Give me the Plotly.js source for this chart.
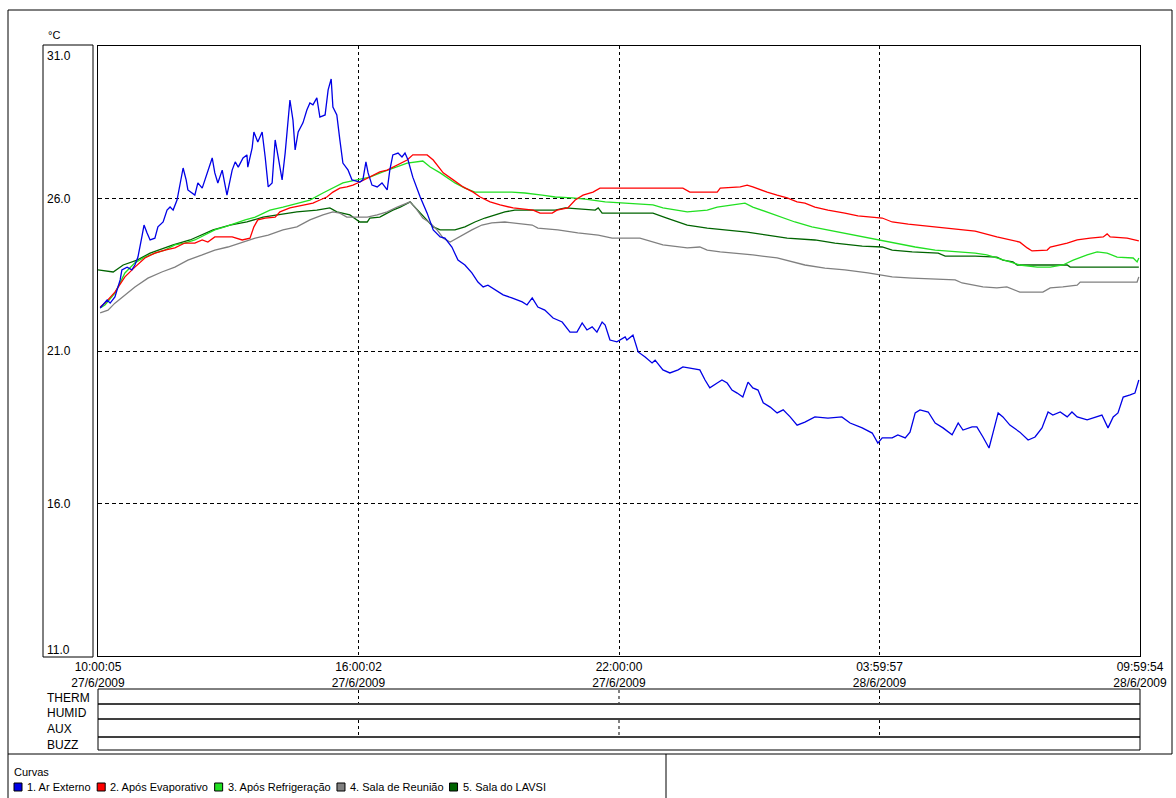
<!DOCTYPE html>
<html><head><meta charset="utf-8">
<script src="https://cdn.plot.ly/plotly-3.0.1.min.js"></script>
<style>html,body{margin:0;padding:0;background:#fff}#chart{width:1176px;height:798px}</style>
</head><body><div id="chart"></div>
<script>
// ---------------- DATA ----------------
const seriesNames = ['1. Ar Externo', '2. Após Evaporativo', '3. Após Refrigeração', '4. Sala de Reunião', '5. Sala do LAVSI'];
const seriesColors = ['#0000e6', '#ff0000', '#22e022', '#808080', '#006400'];

// hours since 10:00:05 27/6/2009, temperature in °C
const arExternoH = [0.05,0.21,0.28,0.39,0.51,0.55,0.67,0.78,0.85,0.92,1.01,1.06,1.13,1.20,1.31,1.38,1.50,1.59,1.66,1.73,1.82,1.89,1.96,2.03,2.07,2.23,2.30,2.40,2.51,2.63,2.69,2.76,2.86,2.97,3.09,3.16,3.23,3.34,3.43,3.45,3.55,3.59,3.68,3.78,3.85,3.92,4.01,4.08,4.15,4.24,4.31,4.42,4.49,4.54,4.61,4.72,4.81,4.88,4.95,5.04,5.11,5.23,5.30,5.37,5.41,5.50,5.57,5.64,5.76,5.85,6.03,6.10,6.17,6.22,6.31,6.43,6.54,6.66,6.72,6.79,6.91,7.00,7.07,7.14,7.25,7.42,7.58,7.72,7.88,7.99,8.15,8.29,8.45,8.61,8.75,8.87,8.98,9.14,9.33,9.53,9.77,9.88,10.00,10.13,10.29,10.48,10.69,10.87,11.03,11.15,11.26,11.38,11.49,11.61,11.68,11.79,11.95,12.14,12.18,12.32,12.44,12.60,12.76,12.83,13.01,13.17,13.36,13.47,13.63,13.86,13.98,14.09,14.26,14.37,14.49,14.60,14.72,14.85,14.97,15.08,15.20,15.32,15.48,15.64,15.78,15.94,16.10,16.28,16.51,16.81,17.13,17.32,17.60,17.83,17.96,18.06,18.29,18.42,18.59,18.70,18.82,18.93,19.12,19.28,19.46,19.67,19.81,19.92,20.13,20.24,20.38,20.52,20.61,20.73,20.84,21.00,21.23,21.42,21.58,21.74,21.88,21.99,22.16,22.32,22.43,22.55,22.78,22.92,23.12,23.26,23.38,23.49,23.61,23.77,23.88,23.97];
const arExternoT = [22.41,22.67,22.57,22.77,23.33,23.66,23.75,23.66,23.82,24.08,24.74,25.13,24.87,24.64,24.70,25.07,25.23,25.62,25.72,25.62,25.95,26.51,27.00,26.61,26.28,26.11,26.51,26.34,26.84,27.33,26.84,26.51,26.93,26.11,26.93,27.20,27.03,27.33,27.43,27.03,27.66,28.18,27.85,28.18,27.36,26.38,26.51,27.92,27.36,26.61,27.49,29.23,28.57,27.59,28.18,28.48,28.90,29.13,29.07,29.30,28.67,28.74,29.56,29.92,29.00,28.74,27.92,27.16,26.93,26.61,26.54,26.61,27.20,26.84,26.44,26.38,26.51,26.28,26.93,27.43,27.49,27.36,27.49,27.26,26.70,26.05,25.52,24.97,24.74,24.70,24.41,23.98,23.82,23.56,23.26,23.10,23.16,23.00,22.84,22.74,22.61,22.51,22.74,22.44,22.34,22.08,21.95,21.62,21.62,21.92,21.69,21.79,21.62,21.95,21.85,21.36,21.30,21.46,21.36,21.52,20.97,20.80,20.61,20.70,20.38,20.28,20.38,20.48,20.44,20.38,20.05,19.79,19.95,20.05,19.95,19.72,19.62,19.49,19.98,19.79,19.72,19.30,19.16,18.97,19.07,18.84,18.57,18.67,18.84,18.80,18.84,18.64,18.48,18.31,17.98,18.15,18.15,18.25,18.15,18.34,18.97,19.07,19.00,18.64,18.48,18.25,18.64,18.41,18.51,18.51,18.18,17.82,18.31,18.97,18.84,18.57,18.34,18.08,18.18,18.48,19.00,18.90,19.00,18.84,19.00,18.84,18.74,18.80,18.90,18.48,18.84,18.97,19.49,19.56,19.62,20.05];

const aposEvapH = [0.05,0.16,0.39,0.62,0.85,1.08,1.31,1.54,1.77,2.00,2.23,2.40,2.53,2.69,3.09,3.32,3.50,3.59,3.68,3.85,4.08,4.19,4.42,4.72,4.95,5.11,5.27,5.41,5.57,5.73,5.87,6.03,6.20,6.33,6.49,6.66,6.79,6.96,7.12,7.25,7.58,7.72,7.95,8.18,8.41,8.64,8.80,9.03,9.26,9.56,10.02,10.18,10.46,10.57,10.82,10.99,11.17,11.40,11.56,13.47,13.63,14.26,14.33,14.79,14.95,15.08,15.25,15.41,15.64,15.87,16.10,16.28,16.51,16.81,17.20,17.50,18.06,18.29,18.66,19.21,19.67,20.20,20.70,20.84,21.23,21.40,21.51,21.86,21.93,22.32,22.55,22.85,23.15,23.24,23.31,23.70,23.97];
const aposEvapT = [22.44,22.57,22.93,23.43,23.75,24.05,24.21,24.31,24.38,24.54,24.54,24.64,24.57,24.74,24.74,24.64,24.70,25.07,25.30,25.36,25.39,25.56,25.69,25.79,25.85,25.95,26.05,26.21,26.34,26.38,26.44,26.54,26.67,26.77,26.87,26.93,27.03,27.16,27.26,27.43,27.43,27.26,26.84,26.61,26.38,26.21,26.05,25.89,25.79,25.69,25.62,25.52,25.52,25.62,25.69,25.95,26.11,26.21,26.34,26.34,26.21,26.21,26.34,26.38,26.44,26.38,26.28,26.21,26.11,26.02,25.89,25.85,25.72,25.62,25.52,25.43,25.36,25.23,25.16,25.07,25.00,24.93,24.74,24.70,24.57,24.38,24.28,24.31,24.41,24.54,24.64,24.70,24.74,24.84,24.74,24.70,24.61];

const aposRefrH = [0.05,0.16,0.39,0.62,0.85,1.08,1.31,1.54,1.77,2.00,2.23,2.46,2.69,2.92,3.16,3.39,3.62,3.96,4.26,4.58,4.88,5.18,5.41,5.64,5.96,6.26,6.56,6.89,7.12,7.48,7.65,7.88,8.11,8.22,8.45,8.68,9.53,9.83,10.23,10.53,10.92,11.22,11.68,12.14,12.78,13.01,13.57,14.03,14.26,14.62,14.90,15.08,15.41,15.71,16.05,16.44,16.81,17.20,17.60,17.96,18.36,18.82,19.28,19.74,20.20,20.47,20.84,21.23,21.63,21.93,22.22,22.46,22.78,23.01,23.24,23.47,23.84,23.93,23.97];
const aposRefrT = [22.41,22.51,22.90,23.56,23.89,24.08,24.21,24.31,24.48,24.54,24.64,24.80,24.97,25.07,25.20,25.30,25.39,25.62,25.72,25.85,25.95,26.18,26.34,26.51,26.61,26.70,26.87,27.03,27.16,27.23,27.03,26.84,26.61,26.51,26.34,26.21,26.21,26.18,26.11,26.05,26.02,25.98,25.89,25.85,25.79,25.69,25.56,25.62,25.72,25.79,25.85,25.72,25.56,25.39,25.23,25.07,24.97,24.87,24.74,24.64,24.54,24.41,24.31,24.25,24.21,24.15,23.98,23.82,23.75,23.75,23.82,23.98,24.15,24.25,24.21,24.08,24.05,23.92,24.05];

const salaReuniaoH = [0.05,0.23,0.39,0.62,0.85,1.15,1.47,1.77,2.07,2.40,2.69,2.99,3.32,3.62,3.92,4.26,4.58,4.88,5.18,5.41,5.57,5.73,6.20,6.43,6.66,6.89,7.19,7.35,7.48,7.65,7.81,7.95,8.11,8.38,8.61,8.84,9.07,9.37,9.60,10.00,10.13,10.59,11.05,11.52,11.84,12.48,13.01,13.57,13.86,14.03,14.33,14.72,15.08,15.64,16.01,16.28,16.74,17.20,17.73,18.06,18.29,18.75,19.28,19.74,19.90,20.38,20.70,20.93,21.23,21.76,21.93,22.22,22.55,22.62,23.93,23.97];
const salaReuniaoT = [22.25,22.34,22.57,22.84,23.10,23.39,23.59,23.75,23.98,24.15,24.31,24.41,24.57,24.70,24.80,24.97,25.07,25.30,25.46,25.56,25.52,25.39,25.39,25.46,25.56,25.72,25.89,25.62,25.36,25.20,24.97,24.70,24.57,24.80,24.97,25.13,25.20,25.23,25.20,25.13,25.03,24.97,24.87,24.80,24.70,24.70,24.48,24.38,24.41,24.31,24.25,24.21,24.15,24.05,23.92,23.82,23.72,23.66,23.56,23.49,23.43,23.39,23.36,23.33,23.23,23.10,23.07,23.10,22.93,22.93,23.07,23.10,23.16,23.26,23.26,23.43];

const salaLavsiH = [0.00,0.35,0.58,0.90,1.20,1.73,2.12,2.65,3.04,3.43,3.80,4.12,4.58,5.04,5.34,5.50,5.80,6.03,6.20,6.26,6.49,6.66,6.79,6.96,7.19,7.25,7.42,7.58,7.72,7.88,8.22,8.45,8.68,8.91,9.14,9.37,9.60,10.53,10.76,11.45,11.52,11.61,12.14,12.78,13.10,13.57,14.03,14.49,14.95,15.41,15.87,16.51,16.97,17.60,18.06,18.29,18.75,19.35,19.51,20.20,20.70,20.84,21.07,21.17,22.32,22.39,23.97];
const salaLavsiT = [23.66,23.59,23.82,23.98,24.21,24.48,24.64,24.97,25.13,25.23,25.39,25.46,25.56,25.62,25.69,25.56,25.46,25.23,25.23,25.36,25.39,25.52,25.62,25.72,25.89,25.79,25.52,25.30,25.07,24.97,24.97,25.07,25.23,25.36,25.46,25.56,25.62,25.62,25.69,25.62,25.69,25.52,25.52,25.52,25.36,25.13,25.03,24.97,24.90,24.80,24.70,24.64,24.54,24.44,24.41,24.31,24.25,24.21,24.11,24.11,24.08,23.98,23.92,23.82,23.82,23.75,23.75];

const xTickHours = [0, 5.9992, 11.9986, 17.9978, 23.9969];
const xTickText = ['10:00:05<br>27/6/2009', '16:00:02<br>27/6/2009', '22:00:00<br>27/6/2009', '03:59:57<br>28/6/2009', '09:59:54<br>28/6/2009'];
const yTickValues = [31, 26, 21, 16, 11];
const yTickText = ['31.0', '26.0', '21.0', '16.0', '11.0'];
const yUnit = '°C';
const rowLabels = ['THERM', 'HUMID', 'AUX', 'BUZZ'];
const legendTitle = 'Curvas';

// ---------------- CHART ----------------
const W = 1176, H = 798;
const M = {l: 98, r: 36, t: 46, b: 142};
const PW = W - M.l - M.r, PH = H - M.t - M.b;
const px = x => (x - M.l) / PW;
const py = y => (H - M.b - y) / PH;
const FONT = 'Liberation Sans, Arial, sans-serif';

const xs = [arExternoH, aposEvapH, aposRefrH, salaReuniaoH, salaLavsiH];
const ys = [arExternoT, aposEvapT, aposRefrT, salaReuniaoT, salaLavsiT];
const order = [4, 3, 2, 1, 0];
const traces = order.map(i => ({
  type: 'scatter', mode: 'lines', x: xs[i], y: ys[i], name: seriesNames[i],
  line: {color: seriesColors[i], width: 1.3}, hoverinfo: 'x+y+name'
}));

const shapes = [];
const annotations = [];
const line = (x0, y0, x1, y1, extra) => shapes.push(Object.assign({type: 'line', xref: 'paper', yref: 'paper', x0: px(x0), y0: py(y0), x1: px(x1), y1: py(y1), line: {color: '#000', width: 1}}, extra || {}));
const rect = (x0, y0, x1, y1, extra) => shapes.push(Object.assign({type: 'rect', xref: 'paper', yref: 'paper', x0: px(x0), y0: py(y0), x1: px(x1), y1: py(y1), line: {color: '#000', width: 1}}, extra || {}));

// outer frame
line(8, 10, 1172, 10);
line(8, 10, 8, 798);
line(1172, 10, 1172, 754);
line(8, 754, 1172, 754);
line(666, 754, 666, 798);
// y label box
rect(43, 45, 93, 657);
// status rows
const rowEdges = [689, 704, 719, 737, 750];
for (let r = 0; r < rowLabels.length; r++) {
  rect(98, rowEdges[r], 1140, rowEdges[r + 1]);
  annotations.push({xref: 'paper', yref: 'paper', x: px(45), y: py((rowEdges[r] + rowEdges[r + 1]) / 2 + 1), xanchor: 'left', yanchor: 'middle', text: rowLabels[r], showarrow: false, font: {family: FONT, size: 12, color: '#000'}});
  if (r === 0 || r === 2) {
    xTickHours.slice(1, -1).forEach(h => shapes.push({type: 'line', xref: 'x', yref: 'paper', x0: h, x1: h, y0: py(rowEdges[r] + 1), y1: py(rowEdges[r + 1] - 1), line: {color: '#000', width: 1, dash: '3px,3px'}}));
  }
}
// y tick labels (first one sits just below the top, last one just above the bottom)
yTickValues.forEach((v, i) => {
  let ys = 0;
  if (i === 0) ys = -10;
  if (i === yTickValues.length - 1) ys = 6;
  annotations.push({xref: 'paper', yref: 'y', x: px(45), y: v, yshift: ys, xanchor: 'left', yanchor: 'middle', text: yTickText[i], showarrow: false, font: {family: FONT, size: 12, color: '#000'}});
});
annotations.push({xref: 'paper', yref: 'paper', x: px(46), y: py(35), xanchor: 'left', yanchor: 'middle', text: yUnit, showarrow: false, font: {family: FONT, size: 11, color: '#000'}});
// legend
annotations.push({xref: 'paper', yref: 'paper', x: px(12), y: py(772), xanchor: 'left', yanchor: 'middle', text: legendTitle, showarrow: false, font: {family: FONT, size: 11, color: '#000'}});
const ctx = document.createElement('canvas').getContext('2d');
ctx.font = '11px ' + FONT;
let lx = 14;
seriesNames.forEach((n, i) => {
  rect(lx, 783, lx + 8, 791, {fillcolor: seriesColors[i], line: {color: '#000', width: 1}});
  annotations.push({xref: 'paper', yref: 'paper', x: px(lx + 11), y: py(787), xanchor: 'left', yanchor: 'middle', text: n, showarrow: false, font: {family: FONT, size: 11, color: '#000'}});
  lx += 11 + ctx.measureText(n).width + 8;
});

const layout = {
  width: W, height: H, margin: M, showlegend: false,
  paper_bgcolor: '#fff', plot_bgcolor: '#fff',
  xaxis: {range: [0, 23.9969], tickmode: 'array', tickvals: xTickHours, ticktext: xTickText,
    showgrid: true, gridcolor: '#000', gridwidth: 1, griddash: '3px,3px', zeroline: false,
    showline: true, mirror: true, linecolor: '#000', linewidth: 1, ticks: '',
    tickfont: {family: FONT, size: 12, color: '#000'}, fixedrange: true},
  yaxis: {range: [11, 31], tickmode: 'array', tickvals: yTickValues, showticklabels: false,
    showgrid: true, gridcolor: '#000', gridwidth: 1, griddash: '4px,3px', zeroline: false,
    showline: true, mirror: true, linecolor: '#000', linewidth: 1, ticks: '', fixedrange: true},
  shapes: shapes, annotations: annotations
};
Plotly.newPlot('chart', traces, layout, {displayModeBar: false, staticPlot: true});
</script>
</body></html>
